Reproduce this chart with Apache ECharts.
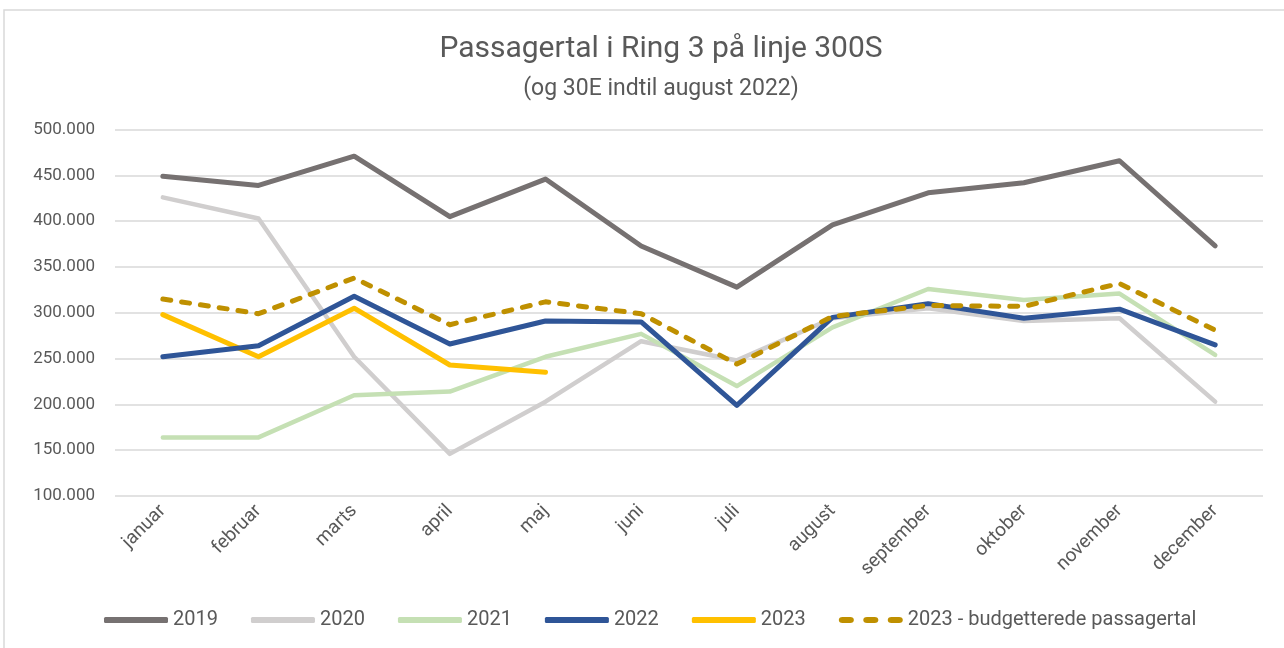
<!DOCTYPE html>
<html>
<head>
<meta charset="utf-8">
<script src="https://cdn.jsdelivr.net/npm/echarts@6/dist/echarts.min.js"></script>
<style>
    html, body { margin: 0; padding: 0; background: #fff; }
    #main { width: 1284px; height: 648px; }
</style>
</head>
<body>
<div id="main"></div>
<script>
var months = ['januar', 'februar', 'marts', 'april', 'maj', 'juni', 'juli', 'august', 'september', 'oktober', 'november', 'december'];
var seriesNames = ['2019', '2020', '2021', '2022', '2023', '2023 - budgetterede passagertal'];
var colors = ['#767171', '#D0CECE', '#C5E0B4', '#2F5597', '#FFC000', '#BF9000'];

var y2019 = [449000, 439000, 471000, 405000, 446000, 373000, 328000, 396000, 431000, 442000, 466000, 373000];
var y2020 = [426000, 403000, 252000, 146000, 203000, 269000, 248000, 294000, 305000, 291000, 294000, 203000];
var y2021 = [164000, 164000, 210000, 214000, 252000, 277000, 220000, 284000, 326000, 314000, 321000, 254000];
var y2022 = [252000, 264000, 318000, 266000, 291000, 290000, 199000, 295000, 310000, 294000, 304000, 265000];
var y2023 = [298000, 252000, 305000, 243000, 235000];
var yBudget = [315000, 299000, 338000, 287000, 312000, 299000, 244000, 296000, 308000, 307000, 332000, 281000];

var dataJson = [y2019, y2020, y2021, y2022, y2023, yBudget];

var fontName = 'Roboto, "Noto Sans", sans-serif';
var textColor = '#595959';

// legend icons: solid bar, and three short dashes for the budget line
var solidIcon = 'roundRect';
var dashIcon = 'path://M4,0h8a4,4 0 0 1 0,8h-8a4,4 0 0 1 0,-8z M30,0h8a4,4 0 0 1 0,8h-8a4,4 0 0 1 0,-8z M56,0h8a4,4 0 0 1 0,8h-8a4,4 0 0 1 0,-8z';

function fmtThousands(v) {
    return String(v).replace(/\B(?=(\d{3})+(?!\d))/g, '.');
}

var option = {
    animation: false,
    backgroundColor: '#fff',
    textStyle: {
        fontFamily: fontName,
        color: textColor
    },
    graphic: [
        {
            type: 'rect',
            shape: { x: 4, y: 10, width: 1300, height: 700 },
            style: { fill: 'none', stroke: '#D9D9D9', lineWidth: 1.5 },
            silent: true
        }
    ],
    title: [
        {
            text: 'Passagertal i Ring 3 på linje 300S',
            left: 656,
            top: 29,
            textAlign: 'center',
            textStyle: { fontSize: 30, fontWeight: 'normal', color: textColor, fontFamily: fontName }
        },
        {
            text: '(og 30E indtil august 2022)',
            left: 656,
            top: 73,
            textAlign: 'center',
            textStyle: { fontSize: 23, fontWeight: 'normal', color: textColor, fontFamily: fontName }
        }
    ],
    legend: {
        data: seriesNames.map(function (n, i) {
            return { name: n, icon: i === 5 ? dashIcon : solidIcon };
        }),
        top: 605,
        left: 99,
        itemWidth: 64,
        itemHeight: 6,
        itemGap: 33,
        symbolKeepAspect: false,
        textStyle: { fontSize: 20, color: textColor, fontFamily: fontName }
    },
    grid: {
        left: 115,
        right: 21,
        top: 129.6,
        bottom: 152,
        containLabel: false
    },
    xAxis: {
        type: 'category',
        data: months,
        boundaryGap: true,
        axisLine: { show: false },
        axisTick: { show: false },
        axisLabel: {
            rotate: 45,
            interval: 0,
            margin: 12,
            fontSize: 19,
            color: textColor
        }
    },
    yAxis: {
        type: 'value',
        min: 100000,
        max: 500000,
        interval: 50000,
        axisLine: { show: false },
        axisTick: { show: false },
        axisLabel: {
            fontSize: 17,
            color: textColor,
            margin: 20,
            formatter: fmtThousands
        },
        splitLine: {
            lineStyle: { color: '#D9D9D9', width: 1.5 }
        }
    },
    series: []
};

option.series = function () {
    var res = [];
    for (var i = 0; i < dataJson.length; i++) {
        var isBudget = i === 5;
        res.push({
            name: seriesNames[i],
            type: 'line',
            symbol: 'none',
            data: dataJson[i],
            color: colors[i],
            z: isBudget ? 10 : [2, 1, 3, 5, 4][i],
            lineStyle: {
                color: colors[i],
                width: (i === 1 || i === 2) ? 4.5 : 5,
                type: isBudget ? [8, 11] : 'solid',
                cap: 'round',
                join: 'round'
            }
        });
    }
    return res;
}();

var myChart = echarts.init(document.getElementById('main'));
myChart.setOption(option);
window.addEventListener('resize', function () {
    myChart.resize();
});
</script>
</body>
</html>
